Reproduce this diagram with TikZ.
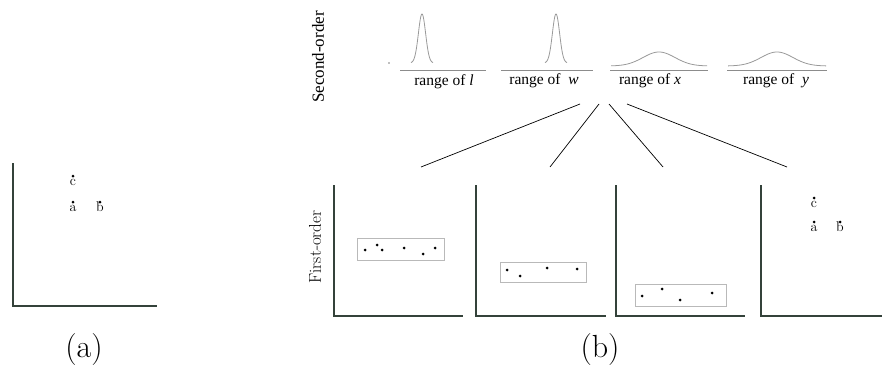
\documentclass[tikz,border=0pt]{standalone}
\usepackage{fontspec}
\newfontfamily\tms{Liberation Serif}
\begin{document}
\begin{tikzpicture}[x=1pt,y=-1pt,
  axis/.style={draw=axisgray,line width=1.3pt},
  link/.style={draw=black,line width=0.7pt},
  pt/.style={circle,fill=black,inner sep=0pt,minimum size=3pt},
  lbl/.style={inner sep=0pt,font=\fontsize{14}{16}\selectfont},
  rangebar/.style={draw=gray!90,line width=1pt},
  pdf/.style={draw=gray!80,line width=0.8pt},
  groupbox/.style={draw=gray!55,line width=1pt},
  rng/.style={inner sep=0pt,font=\tms\fontsize{15.5}{18}\selectfont},
  caption/.style={inner sep=0pt,font=\fontsize{32}{36}\selectfont}]
\definecolor{axisgray}{RGB}{52,66,58}
\useasboundingbox (0,0) rectangle (882,372);

% ---------- (a) ----------
\draw[axis] (13,163) -- (13,306) -- (157,306);
\node[pt] (ac) at (73,176) {};
\node[pt] (aa) at (73,202) {};
\node[pt] (ab) at (100,202) {};
\node[lbl,anchor=north] at ([yshift=-1.5pt]ac.south) {c};
\node[lbl,anchor=north] at ([yshift=-1.5pt]aa.south) {a};
\node[lbl,anchor=north] at ([yshift=2pt]ab.south) {b};
\node[caption] (capa) at (84,350) {(a)};

% ---------- second-order distributions ----------
\node[rotate=90,inner sep=0pt,font=\tms\fontsize{17}{20}\selectfont] (so) at (318,57) {Second-order};
\fill[gray] (389,63) circle (0.8);
\draw[rangebar] (400,70) -- (486,70);
\draw[rangebar] (501,70) -- (593,70);
\draw[rangebar] (610,70) -- (708,70);
\draw[rangebar] (727,70) -- (827,70);
\draw[pdf] plot[domain=-11:11,samples=80,smooth] ({422+\x},{63-49*exp(-(\x*\x)/(2*3.6*3.6))});
\draw[pdf] plot[domain=-11:11,samples=80,smooth] ({556+\x},{63-49*exp(-(\x*\x)/(2*3.6*3.6))});
\draw[pdf] plot[domain=-48:48,samples=80,smooth] ({659+\x},{66-14*exp(-(\x*\x)/(2*16*16))});
\draw[pdf] plot[domain=-49:49,samples=80,smooth] ({777+\x},{66-14*exp(-(\x*\x)/(2*16*16))});
\node[rng] (rl) at (444,82) {range of \textit{l}};
\node[rng] (rw) at (544,81) {range of\ \ \textit{w}};
\node[rng] (rx) at (650,81) {range of\ \textit{x}};
\node[rng] (ry) at (776,81) {range of\ \ \textit{y}};

% ---------- connectors ----------
\coordinate (s1) at (580,104); \coordinate (e1) at (421,167);
\coordinate (s2) at (599,104); \coordinate (e2) at (550,167);
\coordinate (s3) at (609,104); \coordinate (e3) at (663,167);
\coordinate (s4) at (627,104); \coordinate (e4) at (787,167);
\draw[link] (s1) -- (e1);
\draw[link] (s2) -- (e2);
\draw[link] (s3) -- (e3);
\draw[link] (s4) -- (e4);

% ---------- first-order panels ----------
\node[rotate=90,inner sep=0pt,font=\fontsize{17}{20}\selectfont] (fo) at (315,247) {First-order};

% panel 1
\draw[axis] (334,185) -- (334,316) -- (463,316);
\node[groupbox,minimum width=87pt,minimum height=22pt,inner sep=0pt] (g1) at (400.5,249) {};
\foreach \px/\py in {365/250,377/245,382/250,404/248,423/254,435/248}
  \node[pt] at (\px,\py) {};

% panel 2
\draw[axis] (476,185) -- (476,316) -- (606,316);
\node[groupbox,minimum width=86pt,minimum height=20pt,inner sep=0pt] (g2) at (543,272) {};
\foreach \px/\py in {507/270,520/276,547/268,577/269}
  \node[pt] at (\px,\py) {};

% panel 3
\draw[axis] (616,185) -- (616,316) -- (745,316);
\node[groupbox,minimum width=91pt,minimum height=22pt,inner sep=0pt] (g3) at (680.5,295) {};
\foreach \px/\py in {642/296,662/289,680/300,712/293}
  \node[pt] at (\px,\py) {};

% panel 4
\draw[axis] (761,185) -- (761,316) -- (882,316);
\node[pt] (bc) at (814,198) {};
\node[pt] (ba) at (814,222) {};
\node[pt] (bb) at (840,222) {};
\node[lbl,anchor=north] at ([yshift=-1.5pt]bc.south) {c};
\node[lbl,anchor=north] at ([yshift=-1.5pt]ba.south) {a};
\node[lbl,anchor=north] at ([yshift=2pt]bb.south) {b};

\node[caption] (capb) at (600,350) {(b)};
\end{tikzpicture}
\end{document}
